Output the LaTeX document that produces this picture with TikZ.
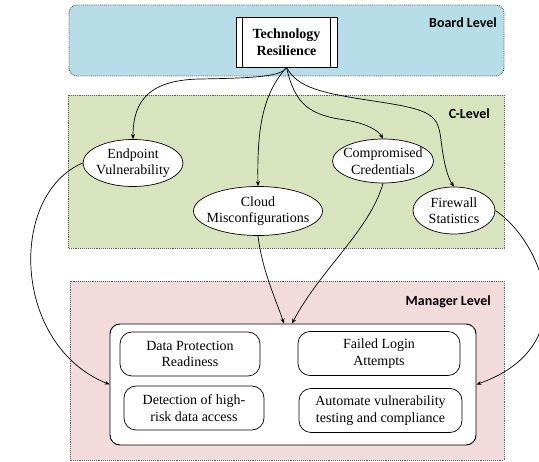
\documentclass[tikz,border=0pt]{standalone}
\usepackage{fontspec}
\setmainfont{Liberation Serif}
\newfontfamily\lblfont{Carlito}
\usetikzlibrary{shapes.geometric,arrows.meta}
\definecolor{boardfill}{HTML}{B7DDE8}
\definecolor{cfill}{HTML}{D7E4BD}
\definecolor{mgrfill}{HTML}{F2DCDB}
\definecolor{framegray}{HTML}{595959}

\begin{document}
\begin{tikzpicture}[x=1pt,y=-1pt,
  levelbox/.style={draw=framegray, densely dotted, line width=0.9pt},
  levellabel/.style={font=\lblfont\bfseries\fontsize{14}{16}\selectfont, anchor=east, inner sep=0pt},
  bubble/.style={ellipse, draw, fill=white, line width=0.7pt, inner sep=0pt},
  bodytext/.style={align=center, inner sep=0pt, font=\fontsize{14}{16.5}\selectfont},
  kpi/.style={draw, fill=white, rounded corners=12pt, line width=0.7pt, inner sep=2pt,
    align=center, font=\fontsize{14}{16.5}\selectfont, minimum height=44pt},
  link/.style={-{Stealth[length=5pt,width=4pt]}, line width=0.7pt},
]
\useasboundingbox (0,0) rectangle (539,462);

% organisational levels
\draw[levelbox, fill=boardfill, rounded corners=8pt] (69,5) rectangle (504,76);
\draw[levelbox, fill=cfill] (68,95) rectangle (504,248);
\draw[levelbox, fill=mgrfill] (70,281) rectangle (504,460.5);
\node[levellabel] (lboard) at (497,23) {Board Level};
\node[levellabel] (lc) at (490,114) {C-Level};
\node[levellabel] (lmgr) at (491,302) {Manager Level};

% top-level goal (predefined-process box)
\node[draw, fill=white, minimum width=101pt, minimum height=50pt, inner sep=0pt, line width=0.7pt,
  font=\bfseries\fontsize{14}{16.5}\selectfont, align=center] (tr) at (286.5,42) {Technology\\Resilience};
\draw[line width=0.7pt] ([xshift=7pt]tr.north west) -- ([xshift=7pt]tr.south west);
\draw[line width=0.7pt] ([xshift=-7pt]tr.north east) -- ([xshift=-7pt]tr.south east);

% C-level metrics
\node[bubble, minimum width=100pt, minimum height=47pt] (ev) at (133,163) {};
\node[bodytext] (evt) at (ev) {Endpoint\\Vulnerability};
\node[bubble, minimum width=129pt, minimum height=49pt] (cm) at (258,211) {};
\node[bodytext] (cmt) at (cm) {Cloud\\Misconfigurations};
\node[bubble, minimum width=101pt, minimum height=44pt] (cc) at (383,161) {};
\node[bodytext] (cct) at (cc) {Compromised\\Credentials};
\node[bubble, minimum width=82pt, minimum height=47pt] (fs) at (454,210.5) {};
\node[bodytext] (fst) at (fs) {Firewall\\Statistics};

% manager-level panel
\node[draw, fill=white, rounded corners=10pt, minimum width=366pt, minimum height=121pt,
  line width=0.9pt] (panel) at (293,384.5) {};
\node[kpi, minimum width=140pt] (dp) at (190,354) {Data Protection\\Readiness};
\node[kpi, minimum width=162pt] (fl) at (379,353.5) {Failed Login\\Attempts};
\node[kpi, minimum width=140pt] (dh) at (194,408) {Detection of high-\\risk data access};
\node[kpi, minimum width=163pt] (av) at (380.5,410.5) {Automate vulnerability\\testing and compliance};

% board to C-level
\draw[link] (tr.south) .. controls (282,76) and (260,78) .. (200,79)
  .. controls (150,80) and (133,100) .. (ev.north);
\draw[link] (tr.south) .. controls (262,95) and (257,130) .. (cm.north);
\draw[link] (tr.south) .. controls (295,105) and (310,115) .. (345,120)
  .. controls (365,123) and (378,130) .. (cc.north);
\draw[link] (tr.south) .. controls (298,88) and (320,93) .. (380,102)
  .. controls (432,110) and (438,115) .. (441,140)
  .. controls (444,165) and (448,178) .. (fs.north);

% C-level to manager level
\draw[link] (ev.west) .. controls (8,195) and (12,345) .. (panel.west);
\draw[link] (fs.east) .. controls (540,240) and (587,345) .. (panel.east);
\draw[link] (cm.south) .. controls (262,270) and (276,300) .. ([xshift=-9pt]panel.north);
\draw[link] (cc.south) .. controls (370,230) and (320,270) .. ([xshift=-1pt]panel.north);
\end{tikzpicture}
\end{document}
